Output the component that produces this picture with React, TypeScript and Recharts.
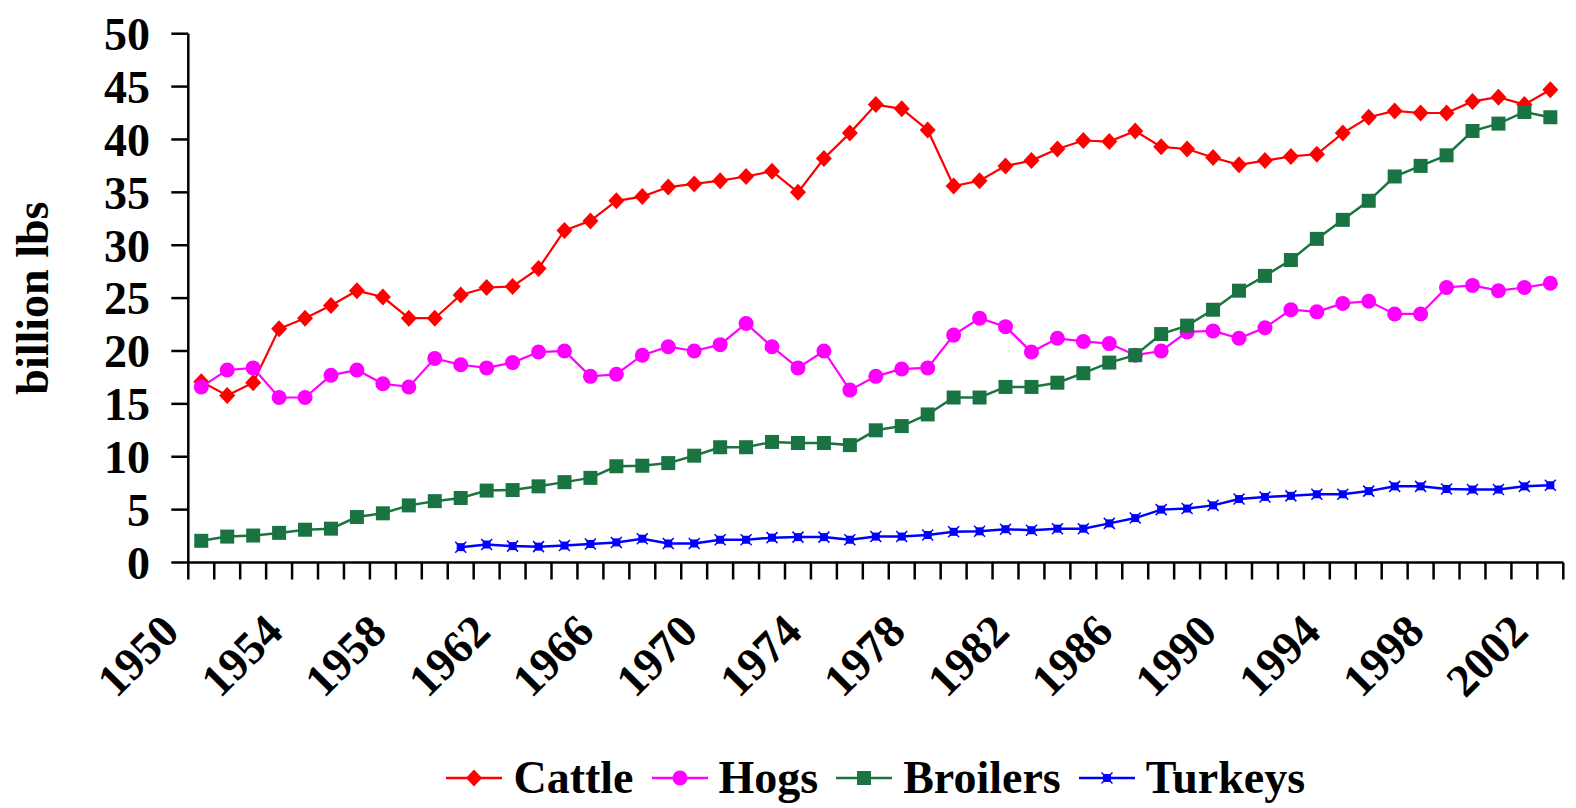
import { LineChart, Line, XAxis, YAxis, Legend } from 'recharts';

const years = [
  1950, 1951, 1952, 1953, 1954, 1955, 1956, 1957, 1958, 1959,
  1960, 1961, 1962, 1963, 1964, 1965, 1966, 1967, 1968, 1969,
  1970, 1971, 1972, 1973, 1974, 1975, 1976, 1977, 1978, 1979,
  1980, 1981, 1982, 1983, 1984, 1985, 1986, 1987, 1988, 1989,
  1990, 1991, 1992, 1993, 1994, 1995, 1996, 1997, 1998, 1999,
  2000, 2001, 2002,
];

const labeledYears = [1950, 1954, 1958, 1962, 1966, 1970, 1974, 1978, 1982, 1986, 1990, 1994, 1998, 2002];

const cattle = [
  17.1, 15.8, 17.0, 22.1, 23.1, 24.3, 25.7, 25.1, 23.1, 23.1,
  25.3, 26.0, 26.1, 27.8, 31.4, 32.3, 34.2, 34.6, 35.5, 35.8,
  36.1, 36.5, 37.0, 35.0, 38.2, 40.6, 43.3, 42.9, 40.9, 35.6,
  36.1, 37.5, 38.0, 39.1, 39.9, 39.8, 40.8, 39.3, 39.1, 38.3,
  37.6, 38.0, 38.4, 38.6, 40.6, 42.1, 42.7, 42.5, 42.5, 43.6,
  44.0, 43.3, 44.7,
];

const hogs = [
  16.6, 18.2, 18.4, 15.6, 15.6, 17.7, 18.2, 16.9, 16.6, 19.3,
  18.7, 18.4, 18.9, 19.9, 20.0, 17.6, 17.8, 19.6, 20.4, 20.0,
  20.6, 22.6, 20.4, 18.4, 20.0, 16.3, 17.6, 18.3, 18.4, 21.5,
  23.1, 22.3, 19.9, 21.2, 20.9, 20.7, 19.6, 20.0, 21.8, 21.9,
  21.2, 22.2, 23.9, 23.7, 24.5, 24.7, 23.5, 23.5, 26.0, 26.2,
  25.7, 26.0, 26.4,
];

const broilers = [
  2.05, 2.45, 2.55, 2.8, 3.1, 3.2, 4.3, 4.65, 5.4, 5.8,
  6.1, 6.8, 6.85, 7.2, 7.6, 8.0, 9.1, 9.15, 9.4, 10.1,
  10.9, 10.9, 11.4, 11.3, 11.3, 11.1, 12.5, 12.9, 14.0, 15.6,
  15.6, 16.6, 16.6, 17.0, 17.9, 18.9, 19.6, 21.6, 22.4, 23.9,
  25.7, 27.1, 28.6, 30.6, 32.4, 34.2, 36.5, 37.5, 38.5, 40.8,
  41.5, 42.6, 42.1,
];

const turkeys = [
  null, null, null, null, null, null, null, null, null, null,
  1.45, 1.7, 1.55, 1.5, 1.6, 1.75, 1.9, 2.25, 1.8, 1.8,
  2.15, 2.15, 2.35, 2.4, 2.4, 2.15, 2.45, 2.45, 2.6, 2.9,
  2.95, 3.15, 3.05, 3.2, 3.2, 3.7, 4.2, 5.0, 5.1, 5.4,
  6.0, 6.2, 6.3, 6.45, 6.45, 6.75, 7.2, 7.2, 6.95, 6.9,
  6.9, 7.2, 7.3,
];

const yTicks = [0, 5, 10, 15, 20, 25, 30, 35, 40, 45, 50];

const data = years.map((year, i) => ({
  year,
  cattle: cattle[i],
  hogs: hogs[i],
  broilers: broilers[i],
  turkeys: turkeys[i],
}));

const FONT = "'Liberation Serif', 'Times New Roman', serif";
const RED = '#ff0000';
const MAGENTA = '#ff00ff';
const GREEN = '#1a7442';
const BLUE = '#0000ff';

const W = 1576;
const H = 808;
const PLOT_LEFT = 188.3;
const PLOT_RIGHT = 1563.3;
const PLOT_TOP = 33.7;
const PLOT_BOTTOM = 562.5;
const BAND = (PLOT_RIGHT - PLOT_LEFT) / years.length;

// marker shapes, roughly like the old Excel ones
function Marker({ kind, cx, cy }: { kind: string; cx: number; cy: number }) {
  if (kind === 'cattle') {
    return (
      <polygon
        points={`${cx},${cy - 8.5} ${cx + 8},${cy} ${cx},${cy + 8.5} ${cx - 8},${cy}`}
        fill={RED}
      />
    );
  }
  if (kind === 'hogs') return <circle cx={cx} cy={cy} r={7.5} fill={MAGENTA} />;
  if (kind === 'broilers') return <rect x={cx - 7} y={cy - 7} width={14} height={14} fill={GREEN} />;
  return (
    <g>
      <rect x={cx - 4} y={cy - 4} width={8} height={8} fill={BLUE} />
      <line x1={cx - 5.5} y1={cy - 5.5} x2={cx + 5.5} y2={cy + 5.5} stroke={BLUE} strokeWidth={1.5} />
      <line x1={cx - 5.5} y1={cy + 5.5} x2={cx + 5.5} y2={cy - 5.5} stroke={BLUE} strokeWidth={1.5} />
    </g>
  );
}

const makeDot = (kind: string) => (props: any) => {
  const { cx, cy, index } = props;
  if (cx == null || cy == null || props.value == null) return <g key={`${kind}-${index}`} />;
  return (
    <g key={`${kind}-${index}`}>
      <Marker kind={kind} cx={cx} cy={cy} />
    </g>
  );
};

function YearTick(props: any) {
  const { x, y, payload } = props;
  const idx = props.index ?? payload.index;
  const bx = x - BAND / 2;
  const lx = x - 20;
  const ly = y + 54.5;
  return (
    <g>
      <line x1={bx} y1={y - 17} x2={bx} y2={y} stroke="#000" strokeWidth={2.5} />
      {idx === years.length - 1 && (
        <line x1={x + BAND / 2} y1={y - 17} x2={x + BAND / 2} y2={y} stroke="#000" strokeWidth={2.5} />
      )}
      {labeledYears.includes(payload.value) && (
        <text
          x={lx}
          y={ly}
          transform={`rotate(-45 ${lx} ${ly})`}
          textAnchor="end"
          fontFamily={FONT}
          fontWeight={700}
          fontSize={46}
          fill="#000"
        >
          {payload.value}
        </text>
      )}
    </g>
  );
}

function YLabel(props: any) {
  const vb = props.viewBox || { y: PLOT_TOP, height: PLOT_BOTTOM - PLOT_TOP };
  const cy = vb.y + vb.height / 2;
  return (
    <text
      x={48}
      y={cy}
      transform={`rotate(-90 48 ${cy})`}
      textAnchor="middle"
      fontFamily={FONT}
      fontWeight={700}
      fontSize={46}
      fill="#000"
    >
      billion lbs
    </text>
  );
}

const legendItems = [
  { kind: 'cattle', name: 'Cattle', color: RED },
  { kind: 'hogs', name: 'Hogs', color: MAGENTA },
  { kind: 'broilers', name: 'Broilers', color: GREEN },
  { kind: 'turkeys', name: 'Turkeys', color: BLUE },
];

function LegendContent() {
  return (
    <div style={{ display: 'flex', justifyContent: 'center', alignItems: 'center' }}>
      {legendItems.map((item) => (
        <div key={item.kind} style={{ display: 'flex', alignItems: 'center', margin: '0 9px' }}>
          <svg width={56} height={20}>
            <line x1={0} y1={10} x2={56} y2={10} stroke={item.color} strokeWidth={2.5} />
            <Marker kind={item.kind} cx={28} cy={10} />
          </svg>
          <span
            style={{
              marginLeft: 11,
              fontFamily: FONT,
              fontWeight: 700,
              fontSize: 46,
              lineHeight: '46px',
              color: '#000',
            }}
          >
            {item.name}
          </span>
        </div>
      ))}
    </div>
  );
}

export default function App() {
  return (
    <div style={{ width: W, height: H, background: '#fff', overflow: 'hidden' }}>
      <style>{'body{margin:0;overflow:hidden;}'}</style>
      <LineChart
        width={W}
        height={H}
        data={data}
        margin={{ top: PLOT_TOP, right: W - PLOT_RIGHT, left: 0, bottom: 0 }}
      >
        <XAxis
          dataKey="year"
          scale="band"
          interval={0}
          height={H - PLOT_BOTTOM}
          tickSize={17}
          tickMargin={0}
          tickLine={false}
          axisLine={{ stroke: '#000', strokeWidth: 2.5 }}
          tick={(p: any) => <YearTick {...p} />}
        />
        <YAxis
          width={PLOT_LEFT}
          domain={[0, 50]}
          ticks={yTicks}
          interval={0}
          tickSize={17}
          tickMargin={21.3}
          axisLine={{ stroke: '#000', strokeWidth: 2.5 }}
          tickLine={{ stroke: '#000', strokeWidth: 2.5 }}
          tick={{ fontSize: 46, fontWeight: 700, fill: '#000', fontFamily: FONT }}
          label={<YLabel />}
        />
        <Legend
          layout="horizontal"
          verticalAlign="middle"
          align="center"
          content={() => <LegendContent />}
          wrapperStyle={{ top: 754.5, left: PLOT_LEFT, width: PLOT_RIGHT - PLOT_LEFT }}
        />
        <Line
          type="linear"
          dataKey="cattle"
          name="Cattle"
          stroke={RED}
          strokeWidth={2.2}
          dot={makeDot('cattle')}
          isAnimationActive={false}
        />
        <Line
          type="linear"
          dataKey="hogs"
          name="Hogs"
          stroke={MAGENTA}
          strokeWidth={2.2}
          dot={makeDot('hogs')}
          isAnimationActive={false}
        />
        <Line
          type="linear"
          dataKey="broilers"
          name="Broilers"
          stroke={GREEN}
          strokeWidth={2.5}
          dot={makeDot('broilers')}
          isAnimationActive={false}
        />
        <Line
          type="linear"
          dataKey="turkeys"
          name="Turkeys"
          stroke={BLUE}
          strokeWidth={2.5}
          dot={makeDot('turkeys')}
          isAnimationActive={false}
        />
      </LineChart>
    </div>
  );
}
